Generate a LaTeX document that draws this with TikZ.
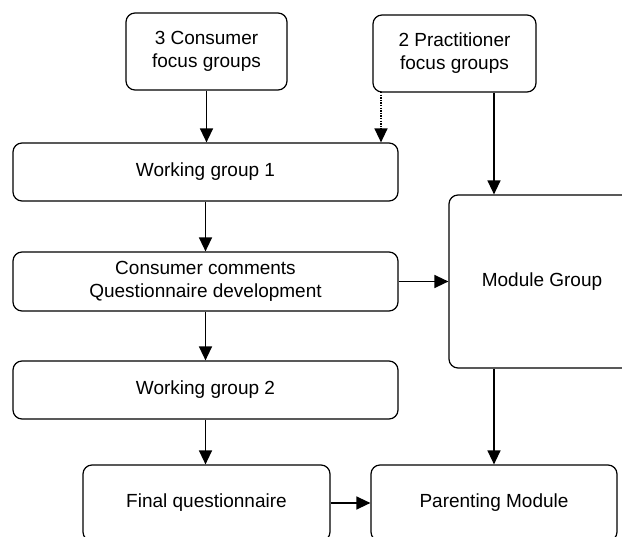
\documentclass[tikz,border=0pt]{standalone}
\usepackage{fontspec}
\setmainfont{Liberation Sans}
\usetikzlibrary{arrows.meta}
\begin{document}
\begin{tikzpicture}[x=1pt,y=-1pt,
  box/.style={draw, line width=1.2pt, rounded corners=9pt, inner sep=0pt, align=center,
    font=\fontsize{19}{23}\selectfont},
  arr/.style={line width=1.4pt, -{Triangle[length=14pt,width=13pt]}},
  dotarr/.style={arr, dash pattern=on 1.4pt off 1.2pt}]
\useasboundingbox (0,0) rectangle (622,537);
\node[box, minimum width=161pt, minimum height=77pt] (a) at (206.5,51.5) {3 Consumer\\focus groups};
\node[box, minimum width=163pt, minimum height=77pt] (b) at (454.5,53.5) {2 Practitioner\\focus groups};
\node[box, minimum width=385pt, minimum height=58pt] (wg1) at (205.5,172) {Working group 1};
\node[box, minimum width=385pt, minimum height=59pt] (cc) at (205.5,281.5) {Consumer comments\\Questionnaire development};
\node[box, minimum width=385pt, minimum height=58pt] (wg2) at (205.5,390) {Working group 2};
\node[box, minimum width=186pt, minimum height=173pt] (mg) at (542,281.5) {Module Group};
\node[box, minimum width=247pt, minimum height=76pt] (fq) at (206.5,503) {Final questionnaire};
\node[box, minimum width=246pt, minimum height=76pt] (pm) at (494,503) {Parenting Module};
\coordinate (bd) at (381,92);
\draw[arr] (a.south) -- (a.south |- wg1.north);
\draw[dotarr] (bd) -- (bd |- wg1.north);
\draw[arr] (b.south -| pm.north) -- (mg.north -| pm.north);
\draw[arr] (wg1.south) -- (cc.north);
\draw[arr] (cc.east) -- (cc.east -| mg.west);
\draw[arr] (cc.south) -- (wg2.north);
\draw[arr] (wg2.south) -- (wg2.south |- fq.north);
\draw[arr] (mg.south -| pm.north) -- (pm.north);
\draw[arr] (fq.east) -- (pm.west);
\end{tikzpicture}
\end{document}
